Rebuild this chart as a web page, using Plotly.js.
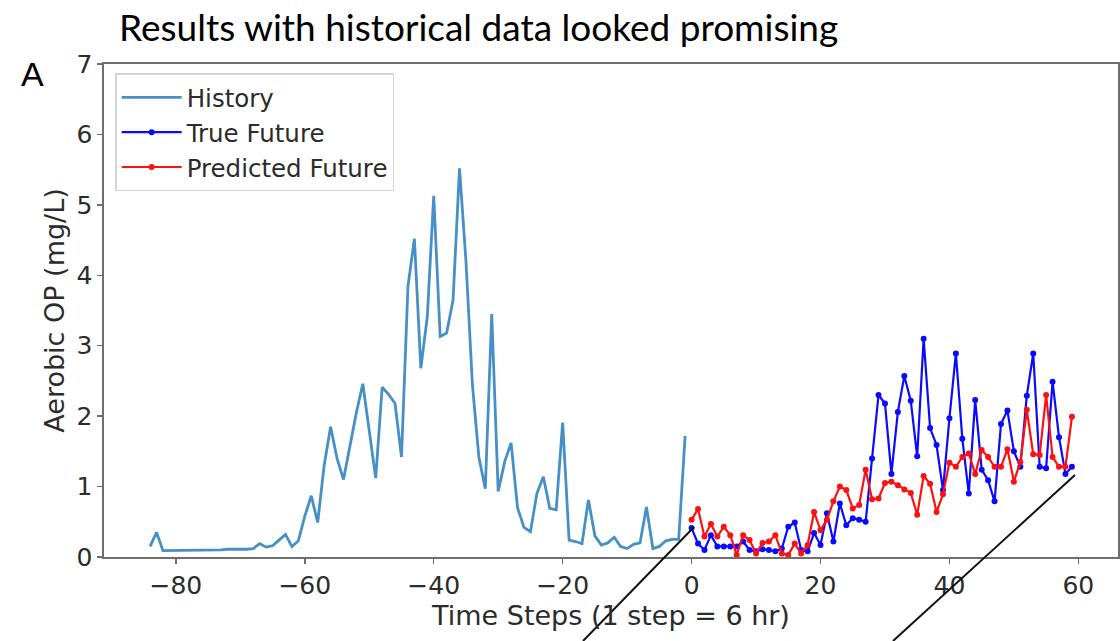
<!DOCTYPE html>
<html>
<head>
<meta charset="utf-8">
<script src="https://cdn.plot.ly/plotly-3.0.1.min.js"></script>
<style>html,body{margin:0;padding:0;background:#fff;}#chart{width:1120px;height:641px;}</style>
</head>
<body>
<div id="chart"></div>
<script>
// History values, steps -84 .. -1
const historyValues = [
  0.15, 0.35, 0.09, 0.09, 0.09, 0.09, 0.09, 0.09, 0.09, 0.09,
  0.09, 0.10, 0.11, 0.11, 0.10, 0.11, 0.12, 0.19, 0.14, 0.16,
  0.24, 0.32, 0.15, 0.23, 0.58, 0.87, 0.49, 1.30, 1.85, 1.40,
  1.10, 1.58, 2.05, 2.46, 1.80, 1.12, 2.41, 2.31, 2.18, 1.42,
  3.84, 4.52, 2.68, 3.41, 5.13, 3.13, 3.18, 3.65, 5.52, 4.20,
  2.45, 1.42, 0.97, 3.45, 0.93, 1.35, 1.62, 0.70, 0.42, 0.36,
  0.90, 1.14, 0.69, 0.67, 1.91, 0.24, 0.22, 0.19, 0.81, 0.30,
  0.17, 0.20, 0.28, 0.15, 0.12, 0.18, 0.20, 0.71, 0.12, 0.15,
  0.23, 0.25, 0.25, 1.72
];
// True future, steps 0 .. 59
const trueFuture = [
  0.41, 0.19, 0.10, 0.31, 0.15, 0.15, 0.15, 0.15, 0.22, 0.10,
  0.08, 0.11, 0.10, 0.08, 0.12, 0.43, 0.49, 0.10, 0.08, 0.34,
  0.17, 0.62, 0.22, 0.76, 0.45, 0.55, 0.53, 0.50, 1.40, 2.30,
  2.18, 1.18, 2.06, 2.57, 2.22, 1.43, 3.10, 1.83, 1.59, 0.95,
  1.97, 2.89, 1.68, 0.90, 2.23, 1.24, 1.09, 0.79, 1.89, 2.08,
  1.50, 1.28, 2.29, 2.89, 1.28, 1.26, 2.49, 1.70, 1.18, 1.28
];
// Predicted future, steps 0 .. 59
const predictedFuture = [
  0.53, 0.68, 0.29, 0.47, 0.29, 0.43, 0.31, 0.03, 0.31, 0.24,
  0.05, 0.20, 0.22, 0.31, 0.05, 0.03, 0.19, 0.05, 0.17, 0.64,
  0.38, 0.53, 0.79, 1.00, 0.95, 0.69, 0.74, 1.24, 0.82, 0.83,
  1.05, 1.07, 1.02, 0.96, 0.91, 0.60, 1.15, 1.04, 0.64, 0.89,
  1.34, 1.28, 1.42, 1.47, 1.18, 1.52, 1.42, 1.28, 1.28, 1.53,
  1.07, 1.35, 2.09, 1.46, 1.45, 2.30, 1.42, 1.28, 1.28, 1.99
];
const seriesNames = ['History', 'True Future', 'Predicted Future'];
const xTickValues = [-80, -60, -40, -20, 0, 20, 40, 60];
const yTickValues = [0, 1, 2, 3, 4, 5, 6, 7];

const historySteps = historyValues.map((_, k) => k - historyValues.length);
const futureSteps = trueFuture.map((_, k) => k);

const tickFont = {family: 'DejaVu Sans, sans-serif', size: 25, color: '#2b2b2b'};
const labelFont = {family: 'DejaVu Sans, sans-serif', size: 27, color: '#2b2b2b'};
const axisGray = '#6e6e6e';

const traces = [
  {x: historySteps, y: historyValues, name: seriesNames[0], type: 'scatter', mode: 'lines',
   line: {color: '#4690c6', width: 2.8}},
  {x: futureSteps, y: trueFuture, name: seriesNames[1], type: 'scatter', mode: 'lines+markers',
   line: {color: '#0a0aff', width: 2.2}, marker: {color: '#0a0aff', size: 6}},
  {x: futureSteps, y: predictedFuture, name: seriesNames[2], type: 'scatter', mode: 'lines+markers',
   line: {color: '#ff1010', width: 2.2}, marker: {color: '#ff1010', size: 6}}
];

const layout = {
  width: 1120, height: 641,
  margin: {l: 104, r: 2, t: 64, b: 84},
  paper_bgcolor: '#ffffff', plot_bgcolor: '#ffffff',
  showlegend: true,
  title: {
    text: 'Results with historical data looked promising',
    font: {family: 'Lato, sans-serif', size: 37, color: '#000000'},
    x: 119 / 1120, xanchor: 'left', xref: 'container',
    y: 1 - 28 / 641, yanchor: 'middle', yref: 'container'
  },
  xaxis: {
    range: [-91.15, 66.15], tickvals: xTickValues,
    ticks: 'outside', ticklen: 5, tickwidth: 1.5, tickcolor: axisGray,
    showline: true, mirror: true, linecolor: axisGray, linewidth: 1.6,
    showgrid: false, zeroline: false, tickfont: tickFont,
    title: {text: 'Time Steps (1 step = 6 hr)', font: labelFont, standoff: 0}
  },
  yaxis: {
    range: [0, 7], tickvals: yTickValues,
    ticks: 'outside', ticklen: 5, tickwidth: 1.5, tickcolor: axisGray,
    showline: true, mirror: true, linecolor: axisGray, linewidth: 1.6,
    showgrid: false, zeroline: false, tickfont: tickFont,
    title: {text: 'Aerobic OP (mg/L)', font: labelFont, standoff: 4}
  },
  legend: {
    x: 0.011, y: 0.981, xanchor: 'left', yanchor: 'top',
    bgcolor: '#ffffff', bordercolor: '#d4d4d4', borderwidth: 1.5,
    font: {family: 'DejaVu Sans, sans-serif', size: 24.5, color: '#2b2b2b'},
    itemwidth: 60
  },
  shapes: [
    {type: 'line', xref: 'paper', yref: 'paper', x0: 0.4724, y0: -0.1704, x1: 0.5819, y1: 0.0609,
     line: {color: '#111111', width: 2}, layer: 'above'},
    {type: 'line', xref: 'paper', yref: 'paper', x0: 0.7781, y0: -0.1704, x1: 0.9576, y1: 0.1663,
     line: {color: '#111111', width: 2}, layer: 'above'}
  ],
  annotations: [
    {text: 'A', xref: 'paper', yref: 'paper', x: (32 - 104) / 1014, y: (557 - 74) / 493,
     xanchor: 'center', yanchor: 'middle', showarrow: false,
     font: {family: 'Liberation Sans, Arial, sans-serif', size: 34, color: '#000000'}}
  ]
};

Plotly.newPlot('chart', traces, layout, {displayModeBar: false, staticPlot: true});
</script>
</body>
</html>
